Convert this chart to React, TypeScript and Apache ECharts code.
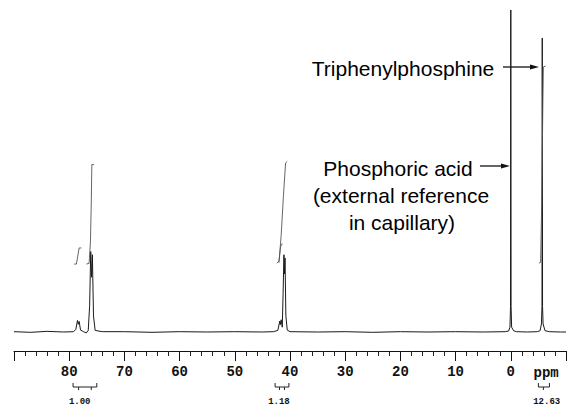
import React, { useEffect, useRef } from "react";
import * as echarts from "echarts";

// Spectrum (chemical shift in ppm, intensity in % of tallest peak)
const SPECTRUM_PPM = [
  90, 87, 84, 81, 79.2, 78.8, 78.5, 78.35, 78.2, 77.95, 77.4, 76.9, 76.55, 76.3, 76.1, 75.95, 75.8,
  75.6, 75.3, 74, 70, 65, 60, 55, 50, 45, 43, 42.2, 41.85, 41.75, 41.6, 41.4, 41.25, 41.1, 41.0, 40.9,
  40.75, 40.5, 40.0, 35, 30, 25, 20, 15, 10, 5, 1, 0.4, 0.15, 0.05, 0, -0.05, -0.15, -0.5, -1, -3, -4.8,
  -5.3, -5.55, -5.65, -5.7, -5.75, -5.85, -6.2, -7, -9, -10,
];
const SPECTRUM_INT = [
  0.1, -0.1, 0.2, 0, 0.1, 0.8, 3.6, 2.4, 3.3, 0.6, 0.1, -0.3, 0.5, 8, 25, 17, 24,
  5, 0.5, 0.1, 0.1, -0.1, 0.1, 0, 0.1, 0, 0.1, 0.5, 3.4, 2.3, 3.8, 1.5, 12, 24, 18, 23,
  5, 0.6, 0.1, 0, 0.1, -0.1, 0.1, 0, 0.1, 0, 0.1, 0.3, 1.5, 8, 100, 8, 1.5, 0.4, 0.1, 0, 0.1,
  0.4, 2.5, 8, 91.3, 8, 2.5, 0.4, 0.1, 0, 0,
];

// Integral traces [ppm, height]
const INTEGRAL_78 = [[79.1, 21.1], [78.7, 21.1], [78.45, 23.5], [78.2, 26.1], [77.8, 26.1]];
const INTEGRAL_76 = [[76.9, 21.1], [76.4, 21.3], [76.15, 28], [76.0, 40], [75.9, 52], [75.5, 52]];
const INTEGRAL_42 = [[42.4, 21.4], [42.0, 22], [41.7, 26.5], [41.4, 27.5]];
const INTEGRAL_41 = [[42.0, 21.5], [41.6, 30], [41.2, 42], [40.8, 52.5], [40.5, 53]];
const INTEGRAL_PPH3 = [[-5.1, 21.4], [-5.4, 21.6], [-5.6, 40], [-5.8, 70], [-5.9, 82.3], [-6.3, 82.6]];

// Integral readouts under the axis
const INTEGRAL_LABELS = ["1.00", "1.18", "12.63"];
const INTEGRAL_LABEL_PPM = [78.1, 42.0, -6.5];
const BRACKET_FROM = [79.3, 42.7, -5.0];
const BRACKET_TO = [75.0, 40.2, -7.0];
const BRACKET_TICKS = [[78.3, 76.0], [41.9, 41.0], [-5.9]];

const AXIS_MIN = -10;
const AXIS_MAX = 90;
const PPM_LABEL_AT = -6.4;

const MONO = "'Liberation Mono', 'DejaVu Sans Mono', monospace";
const SANS = "'Liberation Sans', Arial, sans-serif";

export default function App() {
  const ref = useRef<HTMLDivElement>(null);

  useEffect(() => {
    if (!ref.current) return;
    const chart = echarts.init(ref.current, null, { renderer: "svg" });
    const spectrum = SPECTRUM_PPM.map((p, i) => [p, SPECTRUM_INT[i]]);
    const integralSeries = [INTEGRAL_78, INTEGRAL_76, INTEGRAL_42, INTEGRAL_41, INTEGRAL_PPH3].map((d) => ({
      type: "line",
      data: d,
      symbol: "none",
      silent: true,
      lineStyle: { color: "#555", width: 0.9 },
    }));

    chart.setOption({
      animation: false,
      backgroundColor: "#ffffff",
      grid: { left: 14, right: -6, top: 10, bottom: 58 },
      xAxis: {
        type: "value",
        inverse: true,
        min: AXIS_MIN,
        max: AXIS_MAX,
        interval: 10,
        axisLine: { show: true, onZero: false, lineStyle: { color: "#111", width: 1 } },
        axisTick: { show: true, length: 10, lineStyle: { color: "#111", width: 1 } },
        minorTick: { show: true, splitNumber: 5, length: 5, lineStyle: { color: "#222", width: 1 } },
        splitLine: { show: false },
        axisLabel: {
          margin: 14,
          color: "#111",
          fontFamily: MONO,
          fontWeight: "bold",
          fontSize: 14,
          formatter: (v: number) => (v >= 0 && v <= 80 ? String(v) : ""),
        },
      },
      yAxis: {
        type: "value",
        min: -5.9,
        max: 100,
        show: false,
      },
      series: [
        {
          type: "line",
          data: spectrum,
          symbol: "none",
          silent: true,
          lineStyle: { color: "#1a1a1a", width: 1 },
        },
        ...integralSeries,
      ],
    });

    const px = (v: number) => chart.convertToPixel({ xAxisIndex: 0 }, v) as number;
    const graphics: any[] = [];
    const yLine = 387;
    INTEGRAL_LABELS.forEach((lab, i) => {
      const x1 = px(BRACKET_FROM[i]);
      const x2 = px(BRACKET_TO[i]);
      graphics.push({
        type: "polyline",
        shape: { points: [[x1, yLine - 4], [x1, yLine], [x2, yLine], [x2, yLine - 4]] },
        style: { stroke: "#222", lineWidth: 1, fill: null },
      });
      BRACKET_TICKS[i].forEach((t) => {
        const xt = px(t);
        graphics.push({
          type: "line",
          shape: { x1: xt, y1: yLine, x2: xt, y2: yLine + 3 },
          style: { stroke: "#222", lineWidth: 1 },
        });
      });
      graphics.push({
        type: "text",
        x: px(INTEGRAL_LABEL_PPM[i]),
        y: 402,
        style: {
          text: lab,
          fill: "#111",
          font: `bold 9px ${MONO}`,
          textAlign: "center",
          textVerticalAlign: "middle",
        },
      });
    });
    graphics.push({
      type: "text",
      x: px(PPM_LABEL_AT),
      y: 373,
      style: { text: "ppm", fill: "#111", font: `bold 14px ${MONO}`, textAlign: "center", textVerticalAlign: "middle" },
    });

    const annot = (text: string, x: number, y: number) => ({
      type: "text",
      x,
      y,
      style: { text, fill: "#000", font: `21px ${SANS}`, textAlign: "center", textVerticalAlign: "middle" },
    });
    const arrow = (xa: number, xb: number, y: number) => [
      { type: "line", shape: { x1: xa, y1: y, x2: xb - 6, y2: y }, style: { stroke: "#111", lineWidth: 1.3 } },
      {
        type: "polygon",
        shape: { points: [[xb, y], [xb - 9, y - 2.5], [xb - 9, y + 2.5]] },
        style: { fill: "#111" },
      },
    ];
    graphics.push(annot("Triphenylphosphine", 403, 68));
    graphics.push(annot("Phosphoric acid", 398, 168));
    graphics.push(annot("(external reference", 401, 195));
    graphics.push(annot("in capillary)", 402, 222));
    graphics.push(...arrow(503, 539, 67));
    graphics.push(...arrow(480, 510, 166));

    chart.setOption({ graphic: graphics });

    return () => chart.dispose();
  }, []);

  return (
    <div
      ref={ref}
      style={{ position: "fixed", left: 0, top: 0, width: 569, height: 409, background: "#fff" }}
    />
  );
}
